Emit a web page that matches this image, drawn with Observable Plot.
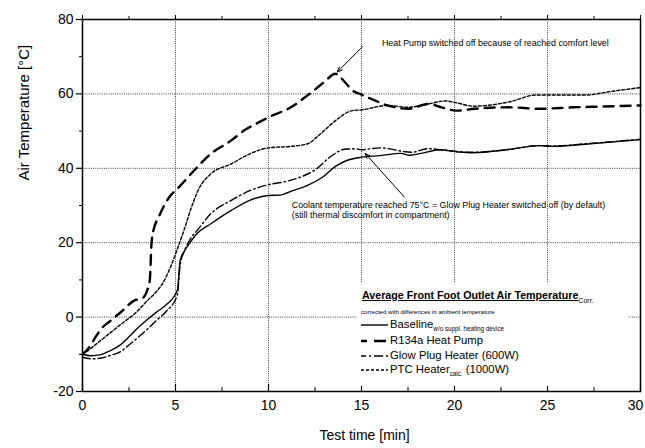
<!DOCTYPE html>
<html><head><meta charset="utf-8">
<script src="https://cdn.jsdelivr.net/npm/d3@7"></script>
<script src="https://cdn.jsdelivr.net/npm/@observablehq/plot@0.6"></script>
<style>
body{margin:0;background:#fff;}
#wrap{position:relative;width:645px;height:448px;font-family:"Liberation Sans",Arial,sans-serif;color:#000;}
#legend{position:absolute;left:356px;top:283px;width:272px;height:103px;background:#fff;}
#legend .t{position:absolute;white-space:nowrap;line-height:1;}
#legend svg{position:absolute;overflow:visible;}
</style></head><body>
<div id="wrap"><div id="chart"></div><div id="legend"></div></div>
<script>
// ---- data ----
const baselineT = [0,0.5,1,1.5,2,2.5,3,3.5,4,4.5,5.1,5.25,5.45,5.75,6.15,6.9,8.0,9.0,10.0,10.6,11.3,12.1,12.9,13.6,14.2,15.0,16.0,17.1,17.6,18.2,19.2,20.2,21.0,22.8,24.6,25.2,27.3,30];
const baselineV = [-10,-10.4,-10.1,-9.0,-7.6,-5.3,-2.8,-0.6,1.4,3.3,7.2,15.2,17.5,19.8,22.4,25.1,28.7,31.4,32.7,32.8,34.0,35.4,37.6,40.5,42.1,43.0,43.4,44.0,43.5,44.0,45.0,44.4,44.2,45.0,46.1,45.9,46.6,47.7];

const heatPumpT = [0,0.3,0.7,1.0,1.5,2.1,2.8,3.2,3.5,3.62,3.66,3.7,3.8,4.1,4.6,5.2,6.0,6.9,8.0,8.7,9.5,10.0,11.2,12.1,13.0,13.6,14.1,14.5,15.0,15.5,16.4,17.5,18.6,19.3,20.1,21.1,22.9,24.6,26.4,28.0,30];
const heatPumpV = [-10,-8.5,-5.4,-3.2,-1.0,1.5,4.5,5.0,7.5,10,14,19,23,26.9,31.8,35.0,39.4,43.9,47.5,50.2,52.4,53.7,56.4,59.6,63.2,65.4,63.2,61.0,59.8,58.7,56.9,56.0,57.3,56.4,55.5,56.0,56.4,56.0,56.4,56.6,56.9];

const glowPlugT = [0,0.5,1,1.5,2,2.5,3,3.5,4,4.5,5.1,5.25,5.5,5.8,6.2,6.9,8.0,9.0,10.0,10.8,11.7,12.6,13.3,14.2,14.7,15.0,16.0,17.7,18.6,19.2,21.0,22.8,24.6,25.2,27.3,30];
const glowPlugV = [-10.8,-11.2,-11.0,-10.3,-9.4,-7.5,-5.4,-3.2,-0.8,1.5,6.0,14,18,21.0,23.5,27.8,31.4,34.0,35.6,36.3,37.6,39.9,43.0,45.2,45.2,45.0,45.5,44.3,45.3,45.0,44.3,45.0,46.1,46.0,46.7,47.8];

const ptcT = [0,0.3,0.6,1.1,1.6,2.1,2.8,3.5,4.0,4.3,4.8,5.2,5.5,5.8,6.3,6.9,8.0,9.0,10.0,11.2,12.1,12.8,13.6,14.5,15.0,16.4,17.5,18.6,19.5,20.2,21.0,22.9,24.4,27.1,28.2,30];
const ptcV = [-10,-9,-7.8,-5.8,-3.8,-1.8,0.9,4.5,7,9,14.3,19.7,24,28.7,34.9,38.5,41.2,43.9,45.5,45.9,46.6,49.3,52.8,55.5,55.7,56.9,56.4,57.3,58.1,57.5,56.7,57.8,59.7,59.7,60.5,61.7];

const xMajor = [0,5,10,15,20,25,30];
const xMinor = [2.5,7.5,12.5,17.5,22.5,27.5];
const yMajor = [-20,0,20,40,60,80];
const yMinor = [-10,10,30,50,70];
const xGrid = [5,10,15,20,25];
const yGrid = [0,20,40,60];

const seriesNames = ["Baseline","R134a Heat Pump","Glow Plug Heater (600W)","PTC Heater (1000W)"];
const xTitle = "Test time [min]";
const yTitle = "Air Temperature [°C]";
const notes = [
  {t:16.1, v:73.6, text:"Heat Pump switched off because of reached comfort level"},
  {t:11.25, v:30.0, text:"Coolant temperature reached 75°C = Glow Plug Heater switched off (by default)"},
  {t:11.25, v:27.3, text:"(still thermal discomfort in compartment)"}
];
const arrows = [
  {t1:15.05, v1:72.7, t2:13.7, v2:65.9},
  {t1:17.3, v1:32.3, t2:15.2, v2:44.0}
];

// ---- build ----
const toRows = (T,V) => T.map((t,i)=>({t, v:V[i]}));
const series = [
  {rows: toRows(baselineT,baselineV), sw:1.4, dash:null},
  {rows: toRows(heatPumpT,heatPumpV), sw:2.4, dash:"10,7"},
  {rows: toRows(glowPlugT,glowPlugV), sw:1.4, dash:"8,3,1.6,3"},
  {rows: toRows(ptcT,ptcV), sw:1.4, dash:"3,2"}
];
const font = "Liberation Sans, Arial, sans-serif";
const mt=19, mb=57, H=448, plotH = H-mt-mb;
const xLast = xMajor[xMajor.length-1];

const chart = Plot.plot({
  width:645, height:H,
  marginLeft:82, marginRight:5, marginTop:mt, marginBottom:mb,
  style:{fontFamily:font, fontSize:"14px", color:"#000", background:"#fff", overflow:"visible"},
  x:{domain:[0,30]},
  y:{domain:[-20,80]},
  marks:[
    Plot.gridX(xGrid, {stroke:"#000", strokeOpacity:0.75, strokeDasharray:"1,1.2", strokeWidth:1}),
    Plot.gridY(yGrid, {stroke:"#000", strokeOpacity:0.75, strokeDasharray:"1,1.2", strokeWidth:1}),
    ...series.map(s => Plot.line(s.rows, {x:"t", y:"v", stroke:"#000", strokeWidth:s.sw, strokeDasharray:s.dash, curve:"monotone-x"})),
    Plot.frame({stroke:"#000", strokeWidth:1.5}),
    Plot.axisY(yMajor, {tickSize:6, tickPadding:3, label:null, fontSize:14, strokeWidth:1.2, tickFormat:d=>String(d)}),
    Plot.axisY(yMinor, {tickSize:3, tickFormat:()=>"", label:null}),
    Plot.axisX(xMajor.filter(d=>d!==xLast), {tickSize:0, tickPadding:9, label:null, fontSize:14, tickFormat:d=>String(d)}),
    Plot.axisX([xLast], {tickSize:0, tickPadding:9, label:null, fontSize:14, tickFormat:d=>String(d), dx:-5}),
    Plot.tickX(xMajor, {x:d=>d, insetTop:plotH-7, stroke:"#000", strokeWidth:1.2}),
    Plot.tickX(xMinor, {x:d=>d, insetTop:plotH-4, stroke:"#000"}),
    Plot.axisX(xMajor, {anchor:"top", tickSize:5, tickFormat:()=>"", label:null}),
    Plot.axisX(xMinor, {anchor:"top", tickSize:4, tickFormat:()=>"", label:null}),
    Plot.text([yTitle], {text:d=>d, frameAnchor:"left", rotate:-90, dx:-58, dy:-25, fontSize:15}),
    Plot.text([xTitle], {text:d=>d, frameAnchor:"bottom", dy:48, dx:3, fontSize:14}),
    Plot.arrow(arrows, {x1:"t1", y1:"v1", x2:"t2", y2:"v2", stroke:"#000", strokeWidth:1, headLength:8, headAngle:45}),
    Plot.text(notes, {x:"t", y:"v", text:"text", textAnchor:"start", fontSize:8.9})
  ]
});
document.getElementById("chart").append(chart);

// ---- legend (HTML overlay, white box hides grid like the reference) ----
const L = document.getElementById("legend");
const ox=356, oy=283;
function addText(html, x, y, size, extra){
  const d=document.createElement("div"); d.className="t"; d.innerHTML=html;
  d.style.left=(x-ox)+"px"; d.style.top=(y-oy)+"px"; d.style.fontSize=size+"px";
  if(extra) Object.assign(d.style, extra);
  L.append(d); return d;
}
addText('<span style="font-weight:bold;text-decoration:underline;">Average Front Foot Outlet Air Temperature</span><span style="font-size:7px;position:relative;top:4px;">Corr.</span>', 362, 290, 10.7);
addText('corrected with differences in ambient temperature', 361, 309, 6.1);
const rowY = [325,341,356,370];
const legendDash = [[null,0],["12,7",6],["9,3,2,3",4],["3,2",0]];
const labels = [
  seriesNames[0]+'<span style="font-size:6.3px;position:relative;top:3px;">w/o suppl. heating device</span>',
  seriesNames[1],
  seriesNames[2],
  'PTC Heater<span style="font-size:6.3px;position:relative;top:3px;">calc.</span> (1000W)'
];
rowY.forEach((y,i)=>{
  const s = series[i];
  const svg = document.createElementNS("http://www.w3.org/2000/svg","svg");
  svg.setAttribute("width",28); svg.setAttribute("height",6);
  svg.style.left=(361-ox)+"px"; svg.style.top=(y-3-oy)+"px";
  const ln = document.createElementNS("http://www.w3.org/2000/svg","line");
  ln.setAttribute("x1",0); ln.setAttribute("x2",27); ln.setAttribute("y1",3); ln.setAttribute("y2",3);
  ln.setAttribute("stroke","#000"); ln.setAttribute("stroke-width", s.sw);
  if(legendDash[i][0]){ ln.setAttribute("stroke-dasharray",legendDash[i][0]); ln.setAttribute("stroke-dashoffset",legendDash[i][1]); }
  svg.append(ln); L.append(svg);
  addText(labels[i], 390, y-6.5, 11.3);
});
</script>
</body></html>
